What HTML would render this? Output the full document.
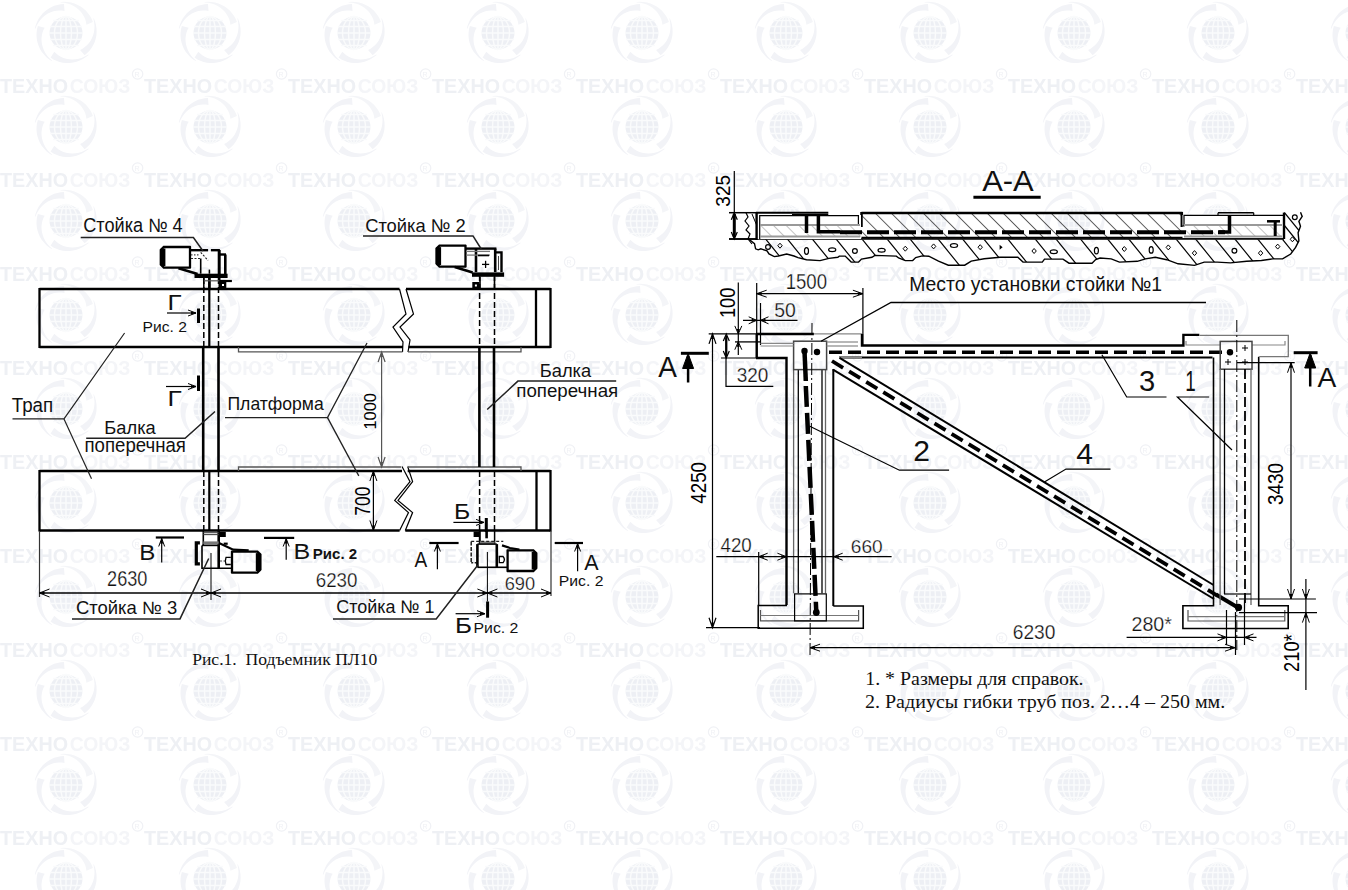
<!DOCTYPE html>
<html><head><meta charset="utf-8"><style>
html,body{margin:0;padding:0;background:#fff;}
body{width:1348px;height:890px;overflow:hidden;position:relative;font-family:"Liberation Sans",sans-serif;}
svg{position:absolute;left:0;top:0;}
</style></head><body>
<svg width="1348" height="890" viewBox="0 0 1348 890">
<defs><pattern id="wm" patternUnits="userSpaceOnUse" x="0" y="0" width="144" height="94">
<g><path d="M60.5,2.0 L64.1,1.8 L67.6,2.0 L71.1,2.5 L74.5,3.5 L77.7,4.9 L80.7,6.5 L83.4,8.5 L86.0,10.8 L88.2,13.4 L90.1,16.1 L91.7,19.1 L92.9,22.1 L86.4,24.8 L86.0,22.1 L85.3,19.5 L84.2,16.9 L82.7,14.4 L81.0,12.0 L78.8,9.8 L76.4,7.8 L73.7,6.1 L70.7,4.6 L67.5,3.5 L64.2,2.8 L60.6,2.5 Z" fill="#f4f5f8"/><path d="M93.8,18.2 L95.1,21.5 L96.0,25.0 L96.5,28.4 L96.6,31.9 L96.4,35.4 L95.7,38.8 L94.7,42.0 L93.3,45.1 L91.5,48.0 L89.5,50.7 L87.2,53.1 L84.6,55.2 L80.1,49.9 L82.5,48.7 L84.8,47.1 L86.9,45.3 L88.8,43.2 L90.6,40.7 L92.0,38.1 L93.2,35.1 L94.0,32.0 L94.4,28.8 L94.5,25.4 L94.1,21.9 L93.4,18.4 Z" fill="#f2f3f7"/><path d="M88.7,54.9 L85.9,57.1 L82.9,59.1 L79.8,60.6 L76.5,61.8 L73.1,62.6 L69.7,63.0 L66.3,63.0 L62.9,62.7 L59.6,61.9 L56.4,60.8 L53.4,59.4 L50.6,57.6 L54.3,51.7 L56.2,53.5 L58.3,55.2 L60.8,56.7 L63.4,57.9 L66.2,58.7 L69.2,59.3 L72.4,59.5 L75.6,59.3 L78.8,58.7 L82.1,57.7 L85.2,56.3 L88.3,54.5 Z" fill="#f2f3f7"/><path d="M52.2,61.3 L49.2,59.4 L46.4,57.2 L44.0,54.6 L41.8,51.9 L40.0,48.9 L38.6,45.8 L37.5,42.5 L36.8,39.2 L36.5,35.8 L36.6,32.5 L37.0,29.2 L37.9,26.0 L44.7,27.7 L43.4,30.0 L42.5,32.6 L41.9,35.3 L41.5,38.2 L41.6,41.2 L42.0,44.2 L42.8,47.2 L43.9,50.2 L45.5,53.2 L47.4,55.9 L49.7,58.5 L52.4,60.9 Z" fill="#f2f3f7"/><path d="M34.8,28.6 L35.7,25.2 L37.0,21.9 L38.6,18.7 L40.6,15.9 L42.8,13.2 L45.4,10.9 L48.1,8.9 L51.1,7.2 L54.2,5.8 L57.4,4.9 L60.7,4.3 L64.0,4.1 L64.5,11.1 L61.9,10.6 L59.1,10.5 L56.3,10.8 L53.5,11.3 L50.7,12.3 L47.9,13.6 L45.3,15.3 L42.8,17.3 L40.5,19.7 L38.5,22.4 L36.7,25.4 L35.3,28.7 Z" fill="#f2f3f7"/>
<circle cx="66" cy="33" r="16.5" fill="#edeff4"/>
<g stroke="#fafbfc" stroke-width="1.5" fill="none">
<line x1="49" y1="33" x2="83" y2="33"/><line x1="50" y1="26.5" x2="82" y2="26.5"/><line x1="50" y1="39.5" x2="82" y2="39.5"/>
<line x1="53" y1="20.5" x2="79" y2="20.5"/><line x1="53" y1="45.5" x2="79" y2="45.5"/>
<line x1="66" y1="16" x2="66" y2="50"/><ellipse cx="66" cy="33" rx="5.5" ry="16.5"/><ellipse cx="66" cy="33" rx="11.5" ry="16.5"/>
</g>
<text x="0" y="92.7" font-family="Liberation Sans" font-weight="bold" font-size="19.5" fill="#eef0f4" textLength="68" lengthAdjust="spacingAndGlyphs">ТЕХНО</text>
<text x="69.7" y="92.7" font-family="Liberation Sans" font-weight="bold" font-size="19.5" fill="#f4f5f8" textLength="60.6" lengthAdjust="spacingAndGlyphs">СОЮЗ</text>
<circle cx="137.6" cy="74" r="5.2" fill="none" stroke="#f0f1f5" stroke-width="1.2"/><text x="134.6" y="76.8" font-family="Liberation Sans" font-size="7" fill="#f0f1f5">R</text>
</g></pattern></defs>
<rect x="0" y="0" width="1348" height="890" fill="url(#wm)"/>
</svg>
<svg width="1348" height="890" viewBox="0 0 1348 890" shape-rendering="auto">
<line x1="39.5" y1="289" x2="399.5" y2="289" stroke="#000" stroke-width="2.3" />
<line x1="406" y1="289" x2="550.5" y2="289" stroke="#000" stroke-width="2.3" />
<line x1="39.5" y1="347" x2="403" y2="347" stroke="#000" stroke-width="2.3" />
<line x1="408.5" y1="347" x2="550.5" y2="347" stroke="#000" stroke-width="2.3" />
<line x1="39.5" y1="288" x2="39.5" y2="348" stroke="#000" stroke-width="2.3" />
<line x1="550.5" y1="288" x2="550.5" y2="348" stroke="#000" stroke-width="2.3" />
<line x1="536" y1="289" x2="536" y2="347" stroke="#000" stroke-width="2.3" />
<path d="M399.5,289 L406,314 L393,327 L403,342 L402.5,352" stroke="#000" stroke-width="1.2" fill="none" stroke-linejoin="miter"/>
<path d="M406,289 L413.5,314 L400,327 L410,340 L408,352" stroke="#000" stroke-width="1.2" fill="none" stroke-linejoin="miter"/>
<line x1="39.5" y1="471" x2="402" y2="471" stroke="#000" stroke-width="2.3" />
<line x1="407.7" y1="471" x2="550.5" y2="471" stroke="#000" stroke-width="2.3" />
<line x1="39.5" y1="530.5" x2="399.6" y2="530.5" stroke="#000" stroke-width="2.3" />
<line x1="405.3" y1="530.5" x2="550.5" y2="530.5" stroke="#000" stroke-width="2.3" />
<line x1="39.5" y1="470" x2="39.5" y2="531.5" stroke="#000" stroke-width="2.3" />
<line x1="550.5" y1="470" x2="550.5" y2="531.5" stroke="#000" stroke-width="2.3" />
<line x1="536.5" y1="471" x2="536.5" y2="530.5" stroke="#000" stroke-width="2.3" />
<path d="M402,466.5 L410,481.6 L394.7,500.4 L408.5,512.6 L399.6,530.6" stroke="#000" stroke-width="1.2" fill="none" stroke-linejoin="miter"/>
<path d="M407.7,466.5 L412.6,481.6 L398,500.4 L412.6,512.6 L405.3,530.6" stroke="#000" stroke-width="1.2" fill="none" stroke-linejoin="miter"/>
<path d="M238.5,347 L238.5,351.8 L402.5,351.8" stroke="#555" stroke-width="1.3" fill="none" stroke-linejoin="miter"/>
<path d="M408,351.8 L521,351.8 L521,347" stroke="#555" stroke-width="1.3" fill="none" stroke-linejoin="miter"/>
<path d="M238.5,471 L238.5,467 L401,467" stroke="#555" stroke-width="1.3" fill="none" stroke-linejoin="miter"/>
<path d="M408,467 L521,467 L521,471" stroke="#555" stroke-width="1.3" fill="none" stroke-linejoin="miter"/>
<line x1="203.2" y1="347" x2="203.2" y2="471" stroke="#000" stroke-width="2.6" />
<line x1="218.5" y1="347" x2="218.5" y2="471" stroke="#000" stroke-width="2.6" />
<line x1="203.8" y1="278" x2="203.8" y2="347" stroke="#000" stroke-width="1.5" stroke-dasharray="6,3" />
<line x1="218.5" y1="278" x2="218.5" y2="347" stroke="#000" stroke-width="1.5" stroke-dasharray="6,3" />
<line x1="209.3" y1="278" x2="209.3" y2="347" stroke="#000" stroke-width="2.2" />
<line x1="203.8" y1="471" x2="203.8" y2="531" stroke="#000" stroke-width="1.5" stroke-dasharray="6,3" />
<line x1="218.5" y1="471" x2="218.5" y2="531" stroke="#000" stroke-width="1.5" stroke-dasharray="6,3" />
<line x1="209.3" y1="471" x2="209.3" y2="531" stroke="#000" stroke-width="2.2" />
<line x1="479.4" y1="347" x2="479.4" y2="467" stroke="#000" stroke-width="2.6" />
<line x1="494" y1="347" x2="494" y2="467" stroke="#000" stroke-width="2.6" />
<line x1="479.6" y1="275" x2="479.6" y2="347" stroke="#000" stroke-width="1.5" stroke-dasharray="6,3" />
<line x1="494.5" y1="275" x2="494.5" y2="347" stroke="#000" stroke-width="1.5" stroke-dasharray="6,3" />
<line x1="479.6" y1="471" x2="479.6" y2="531" stroke="#000" stroke-width="1.5" stroke-dasharray="6,3" />
<line x1="494.5" y1="471" x2="494.5" y2="531" stroke="#000" stroke-width="1.5" stroke-dasharray="6,3" />
<path d="M163.8,247 L189.99,247 L190,247.01 L190,267.59000000000003 L189.99,267.6 L163.8,267.6 L160.8,264.6 L160.8,250 Z" fill="none" stroke="#000" stroke-width="2.3"/>
<line x1="163.10000000000002" y1="248.5" x2="163.10000000000002" y2="266.1" stroke="#000" stroke-width="4.6" />
<line x1="190" y1="250.2" x2="208.1" y2="250.2" stroke="#000" stroke-width="2.4" />
<line x1="210.9" y1="250.2" x2="219.9" y2="250.2" stroke="#000" stroke-width="2.4" />
<line x1="219.2" y1="250" x2="219.2" y2="278" stroke="#000" stroke-width="3" />
<line x1="219" y1="254.5" x2="226" y2="254.5" stroke="#000" stroke-width="2.4" />
<line x1="225.3" y1="254.5" x2="225.3" y2="277" stroke="#000" stroke-width="2.6" />
<rect x="194.5" y="273.7" width="33.099999999999994" height="4.300000000000011" stroke="#000" stroke-width="0" fill="#000"/>
<line x1="178.5" y1="268.3" x2="197.6" y2="273.9" stroke="#000" stroke-width="2.6" />
<line x1="200.7" y1="258.5" x2="200.7" y2="273.7" stroke="#000" stroke-width="1.6" />
<line x1="191" y1="258.5" x2="200.7" y2="258.5" stroke="#222" stroke-width="1.2" stroke-dasharray="2,1.5" />
<line x1="191" y1="254.8" x2="200" y2="254.8" stroke="#444" stroke-width="1.2" stroke-dasharray="1.5,1.5" />
<line x1="200.7" y1="252.4" x2="208.1" y2="260.4" stroke="#222" stroke-width="1.1" stroke-dasharray="2,1.5" />
<line x1="209.4" y1="269.6" x2="209.4" y2="273.7" stroke="#000" stroke-width="1.5" />
<line x1="203.8" y1="278" x2="203.8" y2="289" stroke="#000" stroke-width="1.5" />
<line x1="209.4" y1="278" x2="209.4" y2="289" stroke="#000" stroke-width="2.5" />
<line x1="219.5" y1="278" x2="219.5" y2="289" stroke="#000" stroke-width="2" />
<line x1="203.8" y1="280.8" x2="219.5" y2="280.8" stroke="#555" stroke-width="1.2" />
<line x1="219.5" y1="281" x2="231.9" y2="281" stroke="#000" stroke-width="2.2" />
<rect x="219.5" y="281" width="6.800000000000011" height="8" stroke="#000" stroke-width="0" fill="#000"/>
<rect x="222" y="284" width="2" height="2" stroke="#000" stroke-width="0" fill="#fff"/>
<path d="M439.5,245.6 L465.49,245.6 L465.5,245.60999999999999 L465.5,266.59000000000003 L465.49,266.6 L439.5,266.6 L436.5,263.6 L436.5,248.6 Z" fill="none" stroke="#000" stroke-width="2.3"/>
<line x1="438.8" y1="247.1" x2="438.8" y2="265.1" stroke="#000" stroke-width="4.6" />
<line x1="465.5" y1="248.6" x2="496.4" y2="248.6" stroke="#000" stroke-width="2.4" />
<line x1="476" y1="248.6" x2="476" y2="272.1" stroke="#000" stroke-width="2.6" />
<line x1="495.2" y1="248.6" x2="495.2" y2="272.1" stroke="#000" stroke-width="2.6" />
<path d="M495.2,252.4 L501.5,252.4 L501.5,272.1" stroke="#000" stroke-width="2.4" fill="none" stroke-linejoin="miter"/>
<line x1="498.5" y1="256" x2="498.5" y2="270" stroke="#444" stroke-width="1" />
<rect x="472" y="272.4" width="32.10000000000002" height="4.400000000000034" stroke="#000" stroke-width="0" fill="#000"/>
<line x1="454.7" y1="267" x2="472.6" y2="272.6" stroke="#000" stroke-width="2.6" />
<line x1="466" y1="251.4" x2="490" y2="251.4" stroke="#777" stroke-width="1.3" />
<line x1="466" y1="255.1" x2="490" y2="255.1" stroke="#777" stroke-width="1.3" />
<line x1="478" y1="255.5" x2="489" y2="255.5" stroke="#000" stroke-width="1.6" />
<line x1="482" y1="264.4" x2="489.2" y2="264.4" stroke="#000" stroke-width="1.3" />
<line x1="485.6" y1="260.8" x2="485.6" y2="268" stroke="#000" stroke-width="1.3" />
<line x1="480" y1="276.8" x2="480" y2="289" stroke="#000" stroke-width="1.6" />
<line x1="494.5" y1="276.8" x2="494.5" y2="289" stroke="#000" stroke-width="1.6" />
<rect x="472.3" y="282" width="7.099999999999966" height="7" stroke="#000" stroke-width="0" fill="#000"/>
<rect x="474.9" y="284.5" width="2.0" height="2.0" stroke="#000" stroke-width="0" fill="#fff"/>
<line x1="203.3" y1="531" x2="203.3" y2="545.4" stroke="#000" stroke-width="1.6" />
<line x1="218.7" y1="531" x2="218.7" y2="568.2" stroke="#000" stroke-width="2.6" />
<line x1="203.3" y1="532.7" x2="218.7" y2="532.7" stroke="#444" stroke-width="1.1" />
<line x1="203.3" y1="534.6" x2="218.7" y2="534.6" stroke="#444" stroke-width="1.1" />
<line x1="203.3" y1="542.9" x2="218.7" y2="542.9" stroke="#777" stroke-width="3" />
<rect x="219" y="531.8" width="6.800000000000011" height="5.2000000000000455" stroke="#000" stroke-width="0" fill="#000"/>
<path d="M202,545.4 L218.7,545.4" stroke="#000" stroke-width="1.6" fill="none" stroke-linejoin="miter"/>
<path d="M202,545.4 L202,568.2 L232,568.2" stroke="#000" stroke-width="1.6" fill="none" stroke-linejoin="miter"/>
<path d="M199.9,542.9 L196.3,542.9 L196.3,563.9 L199.9,563.9" stroke="#000" stroke-width="3.2" fill="none" stroke-linejoin="miter"/>
<path d="M219,543 L233.2,549.7 L248.7,550.3" stroke="#000" stroke-width="2.2" fill="none" stroke-linejoin="miter"/>
<rect x="223.7" y="542.6" width="4.0" height="2.199999999999932" stroke="#000" stroke-width="0" fill="#000"/>
<path d="M230.8,557.4 L226,557.4 Q224.6,561 226,564.5 L230.8,564.5" fill="none" stroke="#000" stroke-width="1.3"/>
<line x1="220" y1="561" x2="225" y2="561" stroke="#444" stroke-width="1.1" stroke-dasharray="2,1.5" />
<path d="M232.01,551.6 L257.4,551.6 L260.4,554.6 L260.4,569.6 L257.4,572.6 L232.01,572.6 L232,572.59 L232,551.61 Z" fill="none" stroke="#000" stroke-width="2.3"/>
<line x1="258.09999999999997" y1="553.1" x2="258.09999999999997" y2="571.1" stroke="#000" stroke-width="4.6" />
<rect x="473.6" y="531.5" width="5.599999999999966" height="5.5" stroke="#000" stroke-width="0" fill="#000"/>
<line x1="479.8" y1="531" x2="479.8" y2="544.1" stroke="#000" stroke-width="2" />
<line x1="494.6" y1="531" x2="494.6" y2="544.1" stroke="#000" stroke-width="1.5" />
<line x1="486.6" y1="531" x2="486.6" y2="538.3" stroke="#000" stroke-width="2.6" />
<line x1="479.8" y1="542.9" x2="494.6" y2="542.9" stroke="#777" stroke-width="3" />
<line x1="471.2" y1="541.4" x2="503.3" y2="541.4" stroke="#222" stroke-width="1.2" stroke-dasharray="3,2" />
<line x1="471.2" y1="541.4" x2="471.2" y2="562.7" stroke="#222" stroke-width="1.5" stroke-dasharray="4,1.5" />
<line x1="471.2" y1="562.7" x2="477" y2="562.7" stroke="#222" stroke-width="1.5" stroke-dasharray="2,1.5" />
<line x1="477.4" y1="544.1" x2="477.4" y2="567.3" stroke="#000" stroke-width="2.6" />
<line x1="496.8" y1="544.1" x2="496.8" y2="567.3" stroke="#000" stroke-width="2.6" />
<line x1="477.4" y1="544.1" x2="496.8" y2="544.1" stroke="#000" stroke-width="1.5" />
<line x1="477.4" y1="567.3" x2="507.6" y2="567.3" stroke="#000" stroke-width="1.6" />
<path d="M502,545.4 L510,548 L519.4,549.7" stroke="#000" stroke-width="2.2" fill="none" stroke-linejoin="miter"/>
<path d="M499.3,556.5 L503,556.5 Q505.8,559.6 503,562.7 L499.3,562.7 Z" fill="none" stroke="#000" stroke-width="1.3"/>
<path d="M507.61,550.3 L533.3,550.3 L536.3,553.3 L536.3,568 L533.3,571 L507.61,571 L507.6,570.99 L507.6,550.31 Z" fill="none" stroke="#000" stroke-width="2.3"/>
<line x1="534.0" y1="551.8" x2="534.0" y2="569.5" stroke="#000" stroke-width="4.6" />
<line x1="39.5" y1="531" x2="39.5" y2="597" stroke="#333" stroke-width="1.2" />
<line x1="551" y1="531" x2="551" y2="596" stroke="#333" stroke-width="1.2" />
<line x1="211" y1="553" x2="211" y2="600" stroke="#000" stroke-width="1" />
<line x1="487.4" y1="552" x2="487.4" y2="601.5" stroke="#000" stroke-width="1" />
<line x1="39.5" y1="593" x2="551" y2="593" stroke="#000" stroke-width="1.3" />
<path d="M49.5,589.0 L39.5,593 L49.5,597.0" fill="none" stroke="#000" stroke-width="1"/>
<path d="M39.5,593 L44.5,591.4 L44.5,594.6 Z" fill="#000" stroke="none"/>
<path d="M201.0,597.0 L211,593 L201.0,589.0" fill="none" stroke="#000" stroke-width="1"/>
<path d="M211,593 L206.0,594.6 L206.0,591.4 Z" fill="#000" stroke="none"/>
<path d="M221.0,589.0 L211,593 L221.0,597.0" fill="none" stroke="#000" stroke-width="1"/>
<path d="M211,593 L216.0,591.4 L216.0,594.6 Z" fill="#000" stroke="none"/>
<path d="M477.4,597.0 L487.4,593 L477.4,589.0" fill="none" stroke="#000" stroke-width="1"/>
<path d="M487.4,593 L482.4,594.6 L482.4,591.4 Z" fill="#000" stroke="none"/>
<path d="M497.4,589.0 L487.4,593 L497.4,597.0" fill="none" stroke="#000" stroke-width="1"/>
<path d="M487.4,593 L492.4,591.4 L492.4,594.6 Z" fill="#000" stroke="none"/>
<path d="M541.0,597.0 L551,593 L541.0,589.0" fill="none" stroke="#000" stroke-width="1"/>
<path d="M551,593 L546.0,594.6 L546.0,591.4 Z" fill="#000" stroke="none"/>
<line x1="381.6" y1="352" x2="381.6" y2="467" stroke="#555" stroke-width="1.2" />
<path d="M385.1,362.0 L381.6,352 L378.1,362.0" fill="none" stroke="#555" stroke-width="1.2"/>
<path d="M381.6,352 L383.2,357.0 L380.0,357.0 Z" fill="#555" stroke="none"/>
<path d="M378.1,457.0 L381.6,467 L385.1,457.0" fill="none" stroke="#555" stroke-width="1.2"/>
<path d="M381.6,467 L380.0,462.0 L383.2,462.0 Z" fill="#555" stroke="none"/>
<line x1="373.4" y1="471" x2="373.4" y2="530.5" stroke="#000" stroke-width="1.2" />
<path d="M376.9,481.0 L373.4,471 L369.9,481.0" fill="none" stroke="#000" stroke-width="1"/>
<path d="M373.4,471 L375.0,476.0 L371.8,476.0 Z" fill="#000" stroke="none"/>
<path d="M369.9,520.5 L373.4,530.5 L376.9,520.5" fill="none" stroke="#000" stroke-width="1"/>
<path d="M373.4,530.5 L371.8,525.5 L375.0,525.5 Z" fill="#000" stroke="none"/>
<line x1="167" y1="313" x2="196" y2="313" stroke="#000" stroke-width="1.2" />
<path d="M188.0,316.0 L196,313 L188.0,310.0" fill="none" stroke="#000" stroke-width="1"/>
<path d="M196,313 L191.0,314.6 L191.0,311.4 Z" fill="#000" stroke="none"/>
<line x1="198.5" y1="308.5" x2="198.5" y2="323" stroke="#000" stroke-width="3" />
<line x1="166" y1="386.5" x2="196" y2="386.5" stroke="#000" stroke-width="1.2" />
<path d="M188.0,389.5 L196,386.5 L188.0,383.5" fill="none" stroke="#000" stroke-width="1"/>
<path d="M196,386.5 L191.0,388.1 L191.0,384.9 Z" fill="#000" stroke="none"/>
<line x1="198.5" y1="375.5" x2="198.5" y2="391" stroke="#000" stroke-width="3" />
<line x1="155.8" y1="537.5" x2="184" y2="537.5" stroke="#000" stroke-width="2.2" />
<line x1="161.7" y1="538" x2="161.7" y2="562.4" stroke="#000" stroke-width="1.2" />
<path d="M164.7,546.5 L161.7,538.5 L158.7,546.5" fill="none" stroke="#000" stroke-width="1"/>
<path d="M161.7,538.5 L163.3,543.5 L160.1,543.5 Z" fill="#000" stroke="none"/>
<line x1="264" y1="537.9" x2="294.2" y2="537.9" stroke="#000" stroke-width="2.2" />
<line x1="286.2" y1="538" x2="286.2" y2="559.7" stroke="#000" stroke-width="1.2" />
<path d="M289.2,546.5 L286.2,538.5 L283.2,546.5" fill="none" stroke="#000" stroke-width="1"/>
<path d="M286.2,538.5 L287.8,543.5 L284.6,543.5 Z" fill="#000" stroke="none"/>
<line x1="429.3" y1="543" x2="458.6" y2="543" stroke="#000" stroke-width="2.2" />
<line x1="437.4" y1="543" x2="437.4" y2="569.2" stroke="#000" stroke-width="1.2" />
<path d="M440.4,551.5 L437.4,543.5 L434.4,551.5" fill="none" stroke="#000" stroke-width="1"/>
<path d="M437.4,543.5 L439.0,548.5 L435.8,548.5 Z" fill="#000" stroke="none"/>
<line x1="554.7" y1="543" x2="583" y2="543" stroke="#000" stroke-width="2.2" />
<line x1="577.6" y1="543" x2="577.6" y2="571.2" stroke="#000" stroke-width="1.2" />
<path d="M580.6,551.5 L577.6,543.5 L574.6,551.5" fill="none" stroke="#000" stroke-width="1"/>
<path d="M577.6,543.5 L579.2,548.5 L576.0,548.5 Z" fill="#000" stroke="none"/>
<line x1="453.4" y1="522.4" x2="484" y2="522.4" stroke="#000" stroke-width="1.2" />
<path d="M476.0,525.4 L484,522.4 L476.0,519.4" fill="none" stroke="#000" stroke-width="1"/>
<path d="M484,522.4 L479.0,524.0 L479.0,520.8 Z" fill="#000" stroke="none"/>
<line x1="486.3" y1="518" x2="486.3" y2="532" stroke="#000" stroke-width="3" />
<line x1="455.6" y1="613.7" x2="485" y2="613.7" stroke="#000" stroke-width="1.2" />
<path d="M477.0,616.7 L485,613.7 L477.0,610.7" fill="none" stroke="#000" stroke-width="1"/>
<path d="M485,613.7 L480.0,615.3 L480.0,612.1 Z" fill="#000" stroke="none"/>
<line x1="487.6" y1="601.5" x2="487.6" y2="617.7" stroke="#000" stroke-width="3" />
<text x="83.29" y="232.1" font-family="Liberation Sans" font-size="19.29" fill="#111" font-weight="normal" text-anchor="start" textLength="99.43" lengthAdjust="spacingAndGlyphs" >Стойка № 4</text>
<path d="M80.7,237.6 L193.4,237.6 L203,251" stroke="#222" stroke-width="1.5" fill="none" stroke-linejoin="miter"/>
<text x="365.18" y="231.8" font-family="Liberation Sans" font-size="18.43" fill="#111" font-weight="normal" text-anchor="start" textLength="100.61" lengthAdjust="spacingAndGlyphs" >Стойка № 2</text>
<path d="M363,235.9 L473,235.9 L481.2,249" stroke="#222" stroke-width="1.5" fill="none" stroke-linejoin="miter"/>
<text x="75.98" y="614.1" font-family="Liberation Sans" font-size="17.71" fill="#111" font-weight="normal" text-anchor="start" textLength="101.23" lengthAdjust="spacingAndGlyphs" >Стойка № 3</text>
<path d="M72,618.9 L180,618.9 L208.7,558.5" stroke="#222" stroke-width="1.5" fill="none" stroke-linejoin="miter"/>
<text x="336.2" y="613.3" font-family="Liberation Sans" font-size="18.29" fill="#111" font-weight="normal" text-anchor="start" textLength="98.37" lengthAdjust="spacingAndGlyphs" >Стойка № 1</text>
<path d="M333,619 L436.2,619 L477.9,565" stroke="#222" stroke-width="1.5" fill="none" stroke-linejoin="miter"/>
<text x="11.83" y="411.7" font-family="Liberation Sans" font-size="19.71" fill="#111" font-weight="normal" text-anchor="start" textLength="41.35" lengthAdjust="spacingAndGlyphs" >Трап</text>
<path d="M124.6,333 L64,418.9 L12.5,418.9" stroke="#222" stroke-width="1.2" fill="none" stroke-linejoin="miter"/>
<path d="M64,418.9 L91.5,478.7" stroke="#222" stroke-width="1.2" fill="none" stroke-linejoin="miter"/>
<text x="104.34" y="433.9" font-family="Liberation Sans" font-size="18.41" fill="#111" font-weight="normal" text-anchor="start" textLength="51.39" lengthAdjust="spacingAndGlyphs" >Балка</text>
<text x="84.5" y="452" font-family="Liberation Sans" font-size="19.43" fill="#111" font-weight="normal" text-anchor="start" textLength="101.41" lengthAdjust="spacingAndGlyphs" >поперечная</text>
<path d="M86.2,438.3 L185.1,438.3 L215,411.5" stroke="#222" stroke-width="1.5" fill="none" stroke-linejoin="miter"/>
<text x="539.73" y="376.5" font-family="Liberation Sans" font-size="18.7" fill="#111" font-weight="normal" text-anchor="start" textLength="51.49" lengthAdjust="spacingAndGlyphs" >Балка</text>
<text x="516.29" y="396.5" font-family="Liberation Sans" font-size="18.49" fill="#111" font-weight="normal" text-anchor="start" textLength="101.93" lengthAdjust="spacingAndGlyphs" >поперечная</text>
<path d="M616.2,381.1 L517.9,381.1 L487.2,409.5" stroke="#222" stroke-width="1.5" fill="none" stroke-linejoin="miter"/>
<text x="227.49" y="410" font-family="Liberation Sans" font-size="17.97" fill="#111" font-weight="normal" text-anchor="start" textLength="96.26" lengthAdjust="spacingAndGlyphs" >Платформа</text>
<path d="M225,417.6 L327.5,417.6 L367,343" stroke="#222" stroke-width="1.3" fill="none" stroke-linejoin="miter"/>
<path d="M327.5,417.6 L358.8,475.9" stroke="#222" stroke-width="1.3" fill="none" stroke-linejoin="miter"/>
<text x="142.55" y="331.5" font-family="Liberation Sans" font-size="14.93" fill="#111" font-weight="normal" text-anchor="start" textLength="44.37" lengthAdjust="spacingAndGlyphs" >Рис. 2</text>
<text x="312.82" y="558.8" font-family="Liberation Sans" font-size="14.78" fill="#111" font-weight="bold" text-anchor="start" textLength="44.27" lengthAdjust="spacingAndGlyphs" >Рис. 2</text>
<text x="558.84" y="585.6" font-family="Liberation Sans" font-size="14.64" fill="#111" font-weight="normal" text-anchor="start" textLength="44.58" lengthAdjust="spacingAndGlyphs" >Рис. 2</text>
<text x="473.53" y="633.1" font-family="Liberation Sans" font-size="14.93" fill="#111" font-weight="normal" text-anchor="start" textLength="44.9" lengthAdjust="spacingAndGlyphs" >Рис. 2</text>
<text x="167.43" y="310" font-family="Liberation Sans" font-size="22.17" fill="#111" font-weight="normal" text-anchor="start" textLength="13.99" lengthAdjust="spacingAndGlyphs" >Г</text>
<text x="167.6" y="405.7" font-family="Liberation Sans" font-size="22.46" fill="#111" font-weight="normal" text-anchor="start" textLength="14.24" lengthAdjust="spacingAndGlyphs" >Г</text>
<text x="139.17" y="559.8" font-family="Liberation Sans" font-size="22.46" fill="#111" font-weight="normal" text-anchor="start" textLength="16.08" lengthAdjust="spacingAndGlyphs" >В</text>
<text x="293.5" y="558.7" font-family="Liberation Sans" font-size="22.32" fill="#111" font-weight="normal" text-anchor="start" textLength="16.71" lengthAdjust="spacingAndGlyphs" >В</text>
<text x="414.4" y="567.4" font-family="Liberation Sans" font-size="21.45" fill="#111" font-weight="normal" text-anchor="start" textLength="12.73" lengthAdjust="spacingAndGlyphs" >А</text>
<text x="584.29" y="570.4" font-family="Liberation Sans" font-size="22.46" fill="#111" font-weight="normal" text-anchor="start" textLength="14.35" lengthAdjust="spacingAndGlyphs" >А</text>
<text x="453.92" y="518.8" font-family="Liberation Sans" font-size="22.75" fill="#111" font-weight="normal" text-anchor="start" textLength="16.25" lengthAdjust="spacingAndGlyphs" >Б</text>
<text x="454.93" y="633.1" font-family="Liberation Sans" font-size="22.9" fill="#111" font-weight="normal" text-anchor="start" textLength="17.0" lengthAdjust="spacingAndGlyphs" >Б</text>
<text x="107.09" y="585.7" font-family="Liberation Sans" font-size="21.57" fill="#111" font-weight="normal" text-anchor="start" textLength="40.33" lengthAdjust="spacingAndGlyphs" stroke="#fff" stroke-width="0.25">2630</text>
<text x="315.76" y="586.8" font-family="Liberation Sans" font-size="19.43" fill="#111" font-weight="normal" text-anchor="start" textLength="41.68" lengthAdjust="spacingAndGlyphs" stroke="#fff" stroke-width="0.25">6230</text>
<text x="504.69" y="589.5" font-family="Liberation Sans" font-size="19.0" fill="#111" font-weight="normal" text-anchor="start" textLength="30.51" lengthAdjust="spacingAndGlyphs" stroke="#fff" stroke-width="0.25">690</text>
<text x="376" y="429.53" font-family="Liberation Sans" font-size="17.1" fill="#000" font-weight="normal" text-anchor="start" textLength="36.48" lengthAdjust="spacingAndGlyphs" transform="rotate(-90,376,429.53)" >1000</text>
<text x="370.4" y="515.68" font-family="Liberation Sans" font-size="21.59" fill="#000" font-weight="normal" text-anchor="start" textLength="29.24" lengthAdjust="spacingAndGlyphs" transform="rotate(-90,370.4,515.68)" >700</text>
<text x="192.17" y="665.3" font-family="Liberation Serif" font-size="17.4" fill="#111" font-weight="normal" text-anchor="start" textLength="185.19" lengthAdjust="spacingAndGlyphs" >Рис.1.&#160; Подъемник ПЛ10</text>
<text x="982.15" y="190.9" font-family="Liberation Sans" font-size="30.14" fill="#111" font-weight="normal" text-anchor="start" textLength="51.62" lengthAdjust="spacingAndGlyphs" >А-А</text>
<line x1="973.4" y1="197.2" x2="1040.7" y2="197.2" stroke="#000" stroke-width="3" />
<line x1="734.3" y1="171" x2="734.3" y2="239" stroke="#000" stroke-width="1.2" />
<path d="M737.3,219.7 L734.3,212.7 L731.3,219.7" fill="none" stroke="#000" stroke-width="1.2"/>
<path d="M731.3,232.0 L734.3,239 L737.3,232.0" fill="none" stroke="#000" stroke-width="1.2"/>
<line x1="734.3" y1="214" x2="734.3" y2="237" stroke="#000" stroke-width="3" />
<text x="729.7" y="206.66" font-family="Liberation Sans" font-size="21.14" fill="#000" font-weight="normal" text-anchor="start" textLength="31.69" lengthAdjust="spacingAndGlyphs" transform="rotate(-90,729.7,206.66)" >325</text>
<line x1="729" y1="212.7" x2="756" y2="212.7" stroke="#000" stroke-width="1.5" />
<line x1="729" y1="239" x2="757" y2="239" stroke="#000" stroke-width="1.5" />
<defs><pattern id="hatchs" patternUnits="userSpaceOnUse" width="11.3" height="11.3" patternTransform="translate(954.4,213) rotate(-45)"><line x1="0" y1="0" x2="0" y2="11.3" stroke="#000" stroke-width="1.2"/></pattern><pattern id="hatchg" patternUnits="userSpaceOnUse" width="9" height="9" patternTransform="rotate(-45)"><line x1="0" y1="0" x2="0" y2="9" stroke="#888" stroke-width="1"/></pattern></defs>
<clipPath id="gclip"><path d="M749.3,239.5 L754.5,243.6 L755.6,248.8 L758.2,249.8 L760.8,248.8 L767,250.9 L769,254 L774.3,256.6 L778.4,256 L786.7,254 L794,256 L798,257.6 L806.5,259.7 L820,260.6 L828.9,258.4 L837.8,257.3 L839.3,256.1 L845.2,256.1 L851.2,262.1 L858.6,262.1 L861.5,259.1 L871.9,257.3 L874.9,255.4 L896.4,256.1 L898.6,258 L905.3,260.6 L912.7,260.6 L915.7,257.6 L922.2,255.9 L928.8,256.2 L938.5,261.1 L948.3,265.2 L964.7,265.2 L971.2,261.1 L984.2,258.7 L1000,257.3 L1017.8,257.3 L1023,262.1 L1042.3,262.1 L1044.5,259.1 L1063,259.1 L1069,263.2 L1092,263.2 L1095.7,259.5 L1100,258 L1111.2,258.9 L1119.4,262.1 L1137.3,261.3 L1145.5,258.9 L1155.3,257.2 L1166.7,259.7 L1178.1,263.8 L1194.5,265.4 L1204.2,262.1 L1217.3,262.1 L1230.4,262.9 L1246.7,261.3 L1261.4,260.5 L1272.8,258.9 L1282.6,258.9 L1290.7,254 L1295.6,247.4 L1298.9,240.9 L1298.1,232.7 L1300.5,226.2 L1298.9,221.3 L1302.2,216.4 L1300.5,212.3 L1284.2,212.3 L1284.2,239.5 Z"/></clipPath>
<g clip-path="url(#gclip)"><line x1="756" y1="227.15" x2="793" y2="272.8" stroke="#000" stroke-width="1.2"/><line x1="777.8" y1="227.15" x2="814.8" y2="272.8" stroke="#000" stroke-width="1.2"/><line x1="802.7" y1="227.15" x2="839.7" y2="272.8" stroke="#000" stroke-width="1.2"/><line x1="826.5" y1="227.15" x2="863.5" y2="272.8" stroke="#000" stroke-width="1.2"/><line x1="852.4" y1="227.15" x2="889.4" y2="272.8" stroke="#000" stroke-width="1.2"/><line x1="877.5" y1="227.15" x2="914.5" y2="272.8" stroke="#000" stroke-width="1.2"/><line x1="900.5" y1="227.15" x2="937.5" y2="272.8" stroke="#000" stroke-width="1.2"/><line x1="928.5" y1="227.15" x2="965.5" y2="272.8" stroke="#000" stroke-width="1.2"/><line x1="953" y1="227.15" x2="990" y2="272.8" stroke="#000" stroke-width="1.2"/><line x1="974.2" y1="227.15" x2="1011.2" y2="272.8" stroke="#000" stroke-width="1.2"/><line x1="998.2" y1="227.15" x2="1035.2" y2="272.8" stroke="#000" stroke-width="1.2"/><line x1="1025.6" y1="227.15" x2="1062.6" y2="272.8" stroke="#000" stroke-width="1.2"/><line x1="1046.4" y1="227.15" x2="1083.4" y2="272.8" stroke="#000" stroke-width="1.2"/><line x1="1070.9" y1="227.15" x2="1107.9" y2="272.8" stroke="#000" stroke-width="1.2"/><line x1="1098" y1="227.15" x2="1135" y2="272.8" stroke="#000" stroke-width="1.2"/><line x1="1119.2" y1="227.15" x2="1156.2" y2="272.8" stroke="#000" stroke-width="1.2"/><line x1="1142" y1="227.15" x2="1179" y2="272.8" stroke="#000" stroke-width="1.2"/><line x1="1166.5" y1="227.15" x2="1203.5" y2="272.8" stroke="#000" stroke-width="1.2"/><line x1="1186" y1="227.15" x2="1223" y2="272.8" stroke="#000" stroke-width="1.2"/><line x1="1205.7" y1="227.15" x2="1242.7" y2="272.8" stroke="#000" stroke-width="1.2"/><line x1="1225.3" y1="227.15" x2="1262.3" y2="272.8" stroke="#000" stroke-width="1.2"/><line x1="1248.1" y1="227.15" x2="1285.1" y2="272.8" stroke="#000" stroke-width="1.2"/><line x1="1272.6" y1="227.15" x2="1309.6" y2="272.8" stroke="#000" stroke-width="1.2"/><line x1="1284" y1="225" x2="1304" y2="249.7" stroke="#000" stroke-width="1.2"/><line x1="1284" y1="212" x2="1304" y2="236.7" stroke="#000" stroke-width="1.2"/></g>
<path d="M749.3,239.5 L754.5,243.6 L755.6,248.8 L758.2,249.8 L760.8,248.8 L767,250.9 L769,254 L774.3,256.6 L778.4,256 L786.7,254 L794,256 L798,257.6 L806.5,259.7 L820,260.6 L828.9,258.4 L837.8,257.3 L839.3,256.1 L845.2,256.1 L851.2,262.1 L858.6,262.1 L861.5,259.1 L871.9,257.3 L874.9,255.4 L896.4,256.1 L898.6,258 L905.3,260.6 L912.7,260.6 L915.7,257.6 L922.2,255.9 L928.8,256.2 L938.5,261.1 L948.3,265.2 L964.7,265.2 L971.2,261.1 L984.2,258.7 L1000,257.3 L1017.8,257.3 L1023,262.1 L1042.3,262.1 L1044.5,259.1 L1063,259.1 L1069,263.2 L1092,263.2 L1095.7,259.5 L1100,258 L1111.2,258.9 L1119.4,262.1 L1137.3,261.3 L1145.5,258.9 L1155.3,257.2 L1166.7,259.7 L1178.1,263.8 L1194.5,265.4 L1204.2,262.1 L1217.3,262.1 L1230.4,262.9 L1246.7,261.3 L1261.4,260.5 L1272.8,258.9 L1282.6,258.9 L1290.7,254 L1295.6,247.4 L1298.9,240.9 L1298.1,232.7 L1300.5,226.2 L1298.9,221.3 L1302.2,216.4 L1300.5,212.3" fill="none" stroke="#000" stroke-width="1.4"/>
<path d="M746,212.7 L748,217 L745,221 L749,226 L746,230 L750,234 L748,239 L752,244" stroke="#000" stroke-width="1.2" fill="none" stroke-linejoin="miter"/>
<line x1="752" y1="214" x2="757" y2="226" stroke="#000" stroke-width="1" />
<path d="M861.5,213 L1181.8,213 L1181.8,239 L861.5,239 Z" fill="url(#hatchs)" stroke="none"/>
<line x1="861.5" y1="213" x2="1182.5" y2="213" stroke="#000" stroke-width="2.5" />
<line x1="861.5" y1="212" x2="861.5" y2="227" stroke="#000" stroke-width="2.5" />
<line x1="1181.8" y1="212" x2="1181.8" y2="227" stroke="#000" stroke-width="2.5" />
<line x1="729" y1="239" x2="1284" y2="239" stroke="#000" stroke-width="1.6" />
<line x1="861.5" y1="237.8" x2="1284" y2="237.8" stroke="#000" stroke-width="2" />
<rect x="757" y="215" width="104" height="24" fill="#fff"/>
<rect x="760" y="225" width="101" height="12" fill="url(#hatchg)"/>
<line x1="756.6" y1="212.7" x2="756.6" y2="240" stroke="#000" stroke-width="2.4" />
<line x1="756" y1="212.7" x2="828.3" y2="212.7" stroke="#000" stroke-width="2" />
<line x1="792" y1="214.5" x2="828.3" y2="214.5" stroke="#000" stroke-width="1.2" />
<path d="M759.7,239 L759.7,215.6 L858.4,215.6 L858.4,226" stroke="#000" stroke-width="1.2" fill="none" stroke-linejoin="miter"/>
<line x1="760" y1="225" x2="860" y2="225" stroke="#999" stroke-width="2" />
<line x1="760" y1="236.5" x2="860" y2="236.5" stroke="#999" stroke-width="2" />
<line x1="806.5" y1="215" x2="806.5" y2="233" stroke="#000" stroke-width="3.5" />
<path d="M818.4,215 L818.4,231.7 L840,231.7" stroke="#000" stroke-width="3.5" fill="none" stroke-linejoin="miter"/>
<rect x="1182.5" y="215" width="101" height="23" fill="#fff"/>
<rect x="1186" y="225" width="96" height="12" fill="url(#hatchg)"/>
<path d="M1181.8,226 L1184,226 L1184,215.4 L1284,215.4" stroke="#000" stroke-width="1.2" fill="none" stroke-linejoin="miter"/>
<line x1="1218" y1="212.8" x2="1253.7" y2="212.8" stroke="#000" stroke-width="1.5" />
<line x1="1218" y1="212.8" x2="1218" y2="215.4" stroke="#000" stroke-width="1.2" />
<line x1="1253.7" y1="212.8" x2="1253.7" y2="215.4" stroke="#000" stroke-width="1.2" />
<line x1="1284" y1="212.6" x2="1284" y2="239" stroke="#000" stroke-width="2.4" />
<line x1="1184" y1="225" x2="1282" y2="225" stroke="#999" stroke-width="2" />
<line x1="1184" y1="236.5" x2="1282" y2="236.5" stroke="#999" stroke-width="2" />
<path d="M1229.5,215.6 L1229.5,232 L1219,232" stroke="#000" stroke-width="3.5" fill="none" stroke-linejoin="miter"/>
<line x1="1275.2" y1="221.3" x2="1275.2" y2="236" stroke="#000" stroke-width="3" />
<line x1="1267" y1="221.3" x2="1280" y2="221.3" stroke="#000" stroke-width="2.5" />
<line x1="840" y1="232.2" x2="1225" y2="232.2" stroke="#000" stroke-width="4" stroke-dasharray="22,5" />
<path d="M777.8,245.7 L780,243.2 L782.2,245.7 L780,248.2 Z" fill="none" stroke="#000" stroke-width="1"/>
<ellipse cx="806.5" cy="251" rx="2" ry="3.3" fill="none" stroke="#000" stroke-width="1.2"/>
<ellipse cx="832.2" cy="249.8" rx="3.6" ry="1.9" fill="none" stroke="#000" stroke-width="1.2"/>
<circle cx="854.9" cy="251" r="2.4" fill="none" stroke="#000" stroke-width="1.2"/>
<ellipse cx="881.6" cy="250.2" rx="3.6" ry="1.9" fill="none" stroke="#000" stroke-width="1.2"/>
<path d="M903.0999999999999,248.7 L905.3,246.2 L907.5,248.7 L905.3,251.2 Z" fill="none" stroke="#000" stroke-width="1"/>
<path d="M931.4,246.4 L933.6,243.9 L935.8000000000001,246.4 L933.6,248.9 Z" fill="none" stroke="#000" stroke-width="1"/>
<ellipse cx="954" cy="245.6" rx="3.6" ry="1.9" fill="none" stroke="#000" stroke-width="1.2"/>
<path d="M978.0,247.2 L980.2,244.7 L982.4000000000001,247.2 L980.2,249.7 Z" fill="none" stroke="#000" stroke-width="1"/>
<path d="M999.6,244.7 L1002.6,247.2 L999.6,249.7 Z" fill="#000"/>
<path d="M1031.8999999999999,251 L1034.1,248.5 L1036.3,251 L1034.1,253.5 Z" fill="none" stroke="#000" stroke-width="1"/>
<ellipse cx="1053.8" cy="251.7" rx="3.6" ry="1.9" fill="none" stroke="#000" stroke-width="1.2"/>
<ellipse cx="1096.4" cy="250.6" rx="2" ry="3.3" fill="none" stroke="#000" stroke-width="1.2"/>
<path d="M1122.1,249 L1124.3,246.5 L1126.5,249 L1124.3,251.5 Z" fill="none" stroke="#000" stroke-width="1"/>
<ellipse cx="1151.2" cy="249.9" rx="2" ry="3.3" fill="none" stroke="#000" stroke-width="1.2"/>
<path d="M1166.1,247.4 L1168.3,244.9 L1170.5,247.4 L1168.3,249.9 Z" fill="none" stroke="#000" stroke-width="1"/>
<path d="M1192.3,253.1 L1194.5,250.6 L1196.7,253.1 L1194.5,255.6 Z" fill="none" stroke="#000" stroke-width="1"/>
<circle cx="1234.4" cy="250.7" r="2.4" fill="none" stroke="#000" stroke-width="1.2"/>
<path d="M1258.3999999999999,253.1 L1260.6,250.6 L1262.8,253.1 L1260.6,255.6 Z" fill="none" stroke="#000" stroke-width="1"/>
<path d="M1275.5,246.6 L1277.7,244.1 L1279.9,246.6 L1277.7,249.1 Z" fill="none" stroke="#000" stroke-width="1"/>
<path d="M1290.2,239.3 L1292.4,236.8 L1294.6000000000001,239.3 L1292.4,241.8 Z" fill="none" stroke="#000" stroke-width="1"/>
<circle cx="1294.8" cy="217.2" r="2.4" fill="none" stroke="#000" stroke-width="1.2"/>
<circle cx="768" cy="247" r="2.4" fill="none" stroke="#000" stroke-width="1.2"/>
<text x="785.71" y="288.7" font-family="Liberation Sans" font-size="21.3" fill="#111" font-weight="normal" text-anchor="start" textLength="41.33" lengthAdjust="spacingAndGlyphs" stroke="#fff" stroke-width="0.25">1500</text>
<line x1="756.7" y1="293.7" x2="862.9" y2="293.7" stroke="#000" stroke-width="1.2" />
<path d="M766.7,290.2 L756.7,293.7 L766.7,297.2" fill="none" stroke="#000" stroke-width="1"/>
<path d="M756.7,293.7 L761.7,292.1 L761.7,295.3 Z" fill="#000" stroke="none"/>
<path d="M852.9,297.2 L862.9,293.7 L852.9,290.2" fill="none" stroke="#000" stroke-width="1"/>
<path d="M862.9,293.7 L857.9,295.3 L857.9,292.1 Z" fill="#000" stroke="none"/>
<line x1="756.7" y1="283" x2="756.7" y2="358" stroke="#000" stroke-width="1.2" />
<line x1="862.9" y1="288" x2="862.9" y2="345.5" stroke="#000" stroke-width="1.2" />
<text x="734.6" y="318.07" font-family="Liberation Sans" font-size="21.3" fill="#000" font-weight="normal" text-anchor="start" textLength="30.57" lengthAdjust="spacingAndGlyphs" transform="rotate(-90,734.6,318.07)" >100</text>
<line x1="738.3" y1="282.5" x2="738.3" y2="355" stroke="#000" stroke-width="1.2" />
<path d="M734.8,325.9 L738.3,333.9 L741.8,325.9" fill="none" stroke="#000" stroke-width="1"/>
<path d="M738.3,333.9 L736.7,328.9 L739.9,328.9 Z" fill="#000" stroke="none"/>
<path d="M741.8,349.7 L738.3,341.7 L734.8,349.7" fill="none" stroke="#000" stroke-width="1"/>
<path d="M738.3,341.7 L739.9,346.7 L736.7,346.7 Z" fill="#000" stroke="none"/>
<text x="774.32" y="316.7" font-family="Liberation Sans" font-size="20.58" fill="#111" font-weight="normal" text-anchor="start" textLength="21.6" lengthAdjust="spacingAndGlyphs" stroke="#fff" stroke-width="0.25">50</text>
<line x1="743" y1="320.3" x2="797.5" y2="320.3" stroke="#000" stroke-width="1.2" />
<path d="M748.7,323.8 L756.7,320.3 L748.7,316.8" fill="none" stroke="#000" stroke-width="1"/>
<path d="M756.7,320.3 L751.7,321.9 L751.7,318.7 Z" fill="#000" stroke="none"/>
<path d="M768.5,316.8 L760.5,320.3 L768.5,323.8" fill="none" stroke="#000" stroke-width="1"/>
<path d="M760.5,320.3 L765.5,318.7 L765.5,321.9 Z" fill="#000" stroke="none"/>
<line x1="760.5" y1="303" x2="760.5" y2="345" stroke="#000" stroke-width="1.2" />
<line x1="708.7" y1="333.9" x2="756.7" y2="333.9" stroke="#000" stroke-width="1.2" />
<line x1="756" y1="333.9" x2="813.9" y2="333.9" stroke="#000" stroke-width="2.5" />
<line x1="813.9" y1="333.9" x2="862" y2="333.9" stroke="#888" stroke-width="1.3" />
<line x1="721" y1="358" x2="756" y2="358" stroke="#000" stroke-width="1.2" />
<path d="M756,358 L786.5,358 L786.5,605" stroke="#000" stroke-width="2.4" fill="none" stroke-linejoin="miter"/>
<line x1="756.7" y1="333.9" x2="756.7" y2="358" stroke="#000" stroke-width="2.4" />
<text x="736.64" y="381.5" font-family="Liberation Sans" font-size="21.14" fill="#111" font-weight="normal" text-anchor="start" textLength="31.69" lengthAdjust="spacingAndGlyphs" stroke="#fff" stroke-width="0.25">320</text>
<path d="M726,338 L726,386.3 L773.3,386.3" stroke="#000" stroke-width="1.2" fill="none" stroke-linejoin="miter"/>
<path d="M729.3,340.9 L726.3,333.9 L723.3,340.9" fill="none" stroke="#000" stroke-width="1.2"/>
<path d="M723.3,351.0 L726.3,358 L729.3,351.0" fill="none" stroke="#000" stroke-width="1.2"/>
<line x1="726.3" y1="336" x2="726.3" y2="356" stroke="#000" stroke-width="2.2" />
<line x1="712.5" y1="333.9" x2="712.5" y2="627.7" stroke="#000" stroke-width="1.2" />
<path d="M716.0,343.9 L712.5,333.9 L709.0,343.9" fill="none" stroke="#000" stroke-width="1.2"/>
<path d="M712.5,333.9 L714.1,338.9 L710.9,338.9 Z" fill="#000" stroke="none"/>
<path d="M709.0,617.7 L712.5,627.7 L716.0,617.7" fill="none" stroke="#000" stroke-width="1.2"/>
<path d="M712.5,627.7 L710.9,622.7 L714.1,622.7 Z" fill="#000" stroke="none"/>
<line x1="706" y1="627.7" x2="760" y2="627.7" stroke="#000" stroke-width="1.2" />
<text x="705.8" y="503.67" font-family="Liberation Sans" font-size="21.16" fill="#000" font-weight="normal" text-anchor="start" textLength="41.71" lengthAdjust="spacingAndGlyphs" transform="rotate(-90,705.8,503.67)" >4250</text>
<text x="658.26" y="376.6" font-family="Liberation Sans" font-size="29.28" fill="#111" font-weight="normal" text-anchor="start" textLength="18.7" lengthAdjust="spacingAndGlyphs" >А</text>
<line x1="680.9" y1="353.3" x2="708.8" y2="353.3" stroke="#000" stroke-width="3" />
<line x1="688.1" y1="356" x2="688.1" y2="382.5" stroke="#000" stroke-width="2.5" />
<path d="M688.1,353.5 L693.6,368.5 L682.6,368.5 Z" fill="#000" stroke="#000" stroke-width="1"/>
<text x="1317.46" y="386.5" font-family="Liberation Sans" font-size="27.25" fill="#111" font-weight="normal" text-anchor="start" textLength="18.8" lengthAdjust="spacingAndGlyphs" >А</text>
<line x1="1293.7" y1="352.7" x2="1317.6" y2="352.7" stroke="#000" stroke-width="3" />
<line x1="1310.2" y1="355" x2="1310.2" y2="386.5" stroke="#000" stroke-width="2.5" />
<path d="M1310.2,353 L1315.7,368.0 L1304.7,368.0 Z" fill="#000" stroke="#000" stroke-width="1"/>
<line x1="833.3" y1="369" x2="833.3" y2="606" stroke="#000" stroke-width="2" />
<line x1="793.6" y1="369.6" x2="793.6" y2="593.3" stroke="#666" stroke-width="1.3" />
<line x1="798.3" y1="369.6" x2="798.3" y2="593.3" stroke="#000" stroke-width="1.3" />
<line x1="822" y1="369.6" x2="822" y2="593.3" stroke="#000" stroke-width="1.3" />
<line x1="825.5" y1="369.6" x2="825.5" y2="593.3" stroke="#666" stroke-width="1.3" />
<path d="M787,605.4 L758.2,605.4 L758.2,628.3 L863.3,628.3 L863.3,606 L833.3,606" stroke="#000" stroke-width="1.5" fill="none" stroke-linejoin="miter"/>
<path d="M760.5,610 L760.5,620.9 L858.6,620.9 L858.6,610" stroke="#555" stroke-width="1.2" fill="none" stroke-linejoin="miter"/>
<line x1="760.5" y1="615.5" x2="858.6" y2="615.5" stroke="#777" stroke-width="1.2" />
<rect x="794.6" y="593.9" width="31.699999999999932" height="27.0" stroke="#000" stroke-width="1.2" fill="none"/>
<rect x="793.6" y="341.2" width="33.0" height="28.400000000000034" stroke="#444" stroke-width="1.5" fill="none"/>
<line x1="760.5" y1="343.3" x2="793.6" y2="343.3" stroke="#888" stroke-width="1.2" />
<line x1="760.5" y1="346" x2="793.6" y2="346" stroke="#888" stroke-width="1.2" />
<line x1="735" y1="341.9" x2="760" y2="341.9" stroke="#000" stroke-width="1.3" />
<line x1="826.6" y1="342" x2="858" y2="342" stroke="#888" stroke-width="1.2" />
<line x1="826.6" y1="346" x2="858" y2="346" stroke="#888" stroke-width="1.2" />
<line x1="812" y1="323" x2="810" y2="656" stroke="#000" stroke-width="1" stroke-dasharray="12,3,2,3" />
<line x1="804.5" y1="351" x2="805.8" y2="381" stroke="#000" stroke-width="4.5" />
<line x1="805.8" y1="386" x2="816.3" y2="612" stroke="#000" stroke-width="4.5" stroke-dasharray="21,6" />
<circle cx="804.5" cy="351" r="3.2" fill="#000"/>
<circle cx="817" cy="352" r="3.2" fill="#000"/>
<circle cx="816.3" cy="612.5" r="3.4" fill="#000"/>
<path d="M862,333.9 L862,345.5 L1183.4,345.5 L1183.4,334.9 L1199.3,334.9" stroke="#000" stroke-width="2.4" fill="none" stroke-linejoin="miter"/>
<line x1="839" y1="357.5" x2="1212.5" y2="357.5" stroke="#000" stroke-width="2" />
<line x1="839" y1="357.5" x2="862" y2="357.5" stroke="#888" stroke-width="1.2" />
<path d="M1213.5,357.5 L1213.5,605.7 L1182.9,605.7 L1182.9,628.5 L1288.2,628.5 L1288.2,605.7 L1258.7,605.7 L1258.7,356.7" stroke="#000" stroke-width="1.6" fill="none" stroke-linejoin="miter"/>
<line x1="829" y1="352.2" x2="1228" y2="352.2" stroke="#000" stroke-width="3.6" stroke-dasharray="13,6" />
<circle cx="1230" cy="352.2" r="3.2" fill="#000"/>
<line x1="839.6" y1="357.8" x2="1213.5" y2="585" stroke="#000" stroke-width="2" />
<line x1="833" y1="369.6" x2="1214" y2="599" stroke="#000" stroke-width="2" />
<line x1="832" y1="361" x2="1218" y2="596" stroke="#000" stroke-width="3.8" stroke-dasharray="13,7" />
<line x1="1216" y1="594.5" x2="1237" y2="607" stroke="#000" stroke-width="4" />
<circle cx="1238.5" cy="607.4" r="3.6" fill="#000"/>
<path d="M1199.3,335.4 L1288.3,335.4 L1288.3,356.7 L1259.2,356.7" stroke="#777" stroke-width="1.3" fill="none" stroke-linejoin="miter"/>
<path d="M1186,341 L1186,345 L1220.2,345" stroke="#888" stroke-width="1.2" fill="none" stroke-linejoin="miter"/>
<path d="M1252,345 L1285,345 L1285,341" stroke="#888" stroke-width="1.2" fill="none" stroke-linejoin="miter"/>
<rect x="1220.2" y="341.4" width="31.799999999999955" height="27.80000000000001" stroke="#444" stroke-width="1.5" fill="none"/>
<line x1="1220.1" y1="369" x2="1220.1" y2="605" stroke="#666" stroke-width="1.3" />
<line x1="1224.5" y1="369" x2="1224.5" y2="594" stroke="#000" stroke-width="1.3" />
<line x1="1251" y1="369" x2="1251" y2="605" stroke="#666" stroke-width="1.3" />
<line x1="1236.8" y1="320" x2="1236.8" y2="650" stroke="#000" stroke-width="1" stroke-dasharray="12,3,2,3" />
<line x1="1245" y1="369" x2="1245" y2="606" stroke="#000" stroke-width="1.8" stroke-dasharray="10,4" />
<path d="M1188,610 L1188,621 L1284.8,621 L1284.8,610" stroke="#555" stroke-width="1.2" fill="none" stroke-linejoin="miter"/>
<line x1="1188" y1="616.7" x2="1284.8" y2="616.7" stroke="#777" stroke-width="1.2" />
<line x1="1224" y1="594" x2="1251" y2="594" stroke="#000" stroke-width="1.2" />
<line x1="1242" y1="348" x2="1248" y2="348" stroke="#000" stroke-width="1" />
<line x1="1245" y1="345" x2="1245" y2="351" stroke="#000" stroke-width="1" />
<line x1="1225" y1="362" x2="1231" y2="362" stroke="#000" stroke-width="1" />
<line x1="1228" y1="359" x2="1228" y2="365" stroke="#000" stroke-width="1" />
<line x1="1242" y1="362" x2="1248" y2="362" stroke="#000" stroke-width="1" />
<line x1="1245" y1="359" x2="1245" y2="365" stroke="#000" stroke-width="1" />
<line x1="1237" y1="362.7" x2="1294.7" y2="362.7" stroke="#000" stroke-width="1.2" />
<line x1="1291" y1="362.7" x2="1291" y2="599" stroke="#000" stroke-width="1.2" />
<path d="M1294.5,372.7 L1291,362.7 L1287.5,372.7" fill="none" stroke="#000" stroke-width="1"/>
<path d="M1291,362.7 L1292.6,367.7 L1289.4,367.7 Z" fill="#000" stroke="none"/>
<path d="M1287.5,589.0 L1291,599 L1294.5,589.0" fill="none" stroke="#000" stroke-width="1"/>
<path d="M1291,599 L1289.4,594.0 L1292.6,594.0 Z" fill="#000" stroke="none"/>
<line x1="1239" y1="599" x2="1315.9" y2="599" stroke="#000" stroke-width="1.2" />
<text x="1283.3" y="505.06" font-family="Liberation Sans" font-size="21.43" fill="#000" font-weight="normal" text-anchor="start" textLength="42.0" lengthAdjust="spacingAndGlyphs" transform="rotate(-90,1283.3,505.06)" >3430</text>
<line x1="1305.9" y1="579" x2="1305.9" y2="690" stroke="#000" stroke-width="1.2" />
<path d="M1302.4,589.0 L1305.9,599 L1309.4,589.0" fill="none" stroke="#000" stroke-width="1"/>
<path d="M1305.9,599 L1304.3,594.0 L1307.5,594.0 Z" fill="#000" stroke="none"/>
<path d="M1309.4,622.6 L1305.9,612.6 L1302.4,622.6" fill="none" stroke="#000" stroke-width="1"/>
<path d="M1305.9,612.6 L1307.5,617.6 L1304.3,617.6 Z" fill="#000" stroke="none"/>
<line x1="1239" y1="612.6" x2="1317" y2="612.6" stroke="#000" stroke-width="1.2" />
<text x="1299.2" y="672.02" font-family="Liberation Sans" font-size="21.71" fill="#000" font-weight="normal" text-anchor="start" textLength="37.84" lengthAdjust="spacingAndGlyphs" transform="rotate(-90,1299.2,672.02)" >210*</text>
<text x="1131.52" y="630.7" font-family="Liberation Sans" font-size="20.29" fill="#111" font-weight="normal" text-anchor="start" textLength="40.43" lengthAdjust="spacingAndGlyphs" stroke="#fff" stroke-width="0.25">280*</text>
<line x1="1126.6" y1="637.4" x2="1256.5" y2="637.4" stroke="#000" stroke-width="1.2" />
<path d="M1217.5,640.9 L1226.5,637.4 L1217.5,633.9" fill="none" stroke="#000" stroke-width="1"/>
<path d="M1226.5,637.4 L1221.5,639.0 L1221.5,635.8 Z" fill="#000" stroke="none"/>
<path d="M1253.5,633.9 L1244.5,637.4 L1253.5,640.9" fill="none" stroke="#000" stroke-width="1"/>
<path d="M1244.5,637.4 L1249.5,635.8 L1249.5,639.0 Z" fill="#000" stroke="none"/>
<line x1="1226.5" y1="610" x2="1226.5" y2="645" stroke="#000" stroke-width="1.2" />
<line x1="1244.5" y1="600" x2="1244.5" y2="645" stroke="#000" stroke-width="1.2" />
<text x="1012.74" y="639.4" font-family="Liberation Sans" font-size="20.0" fill="#111" font-weight="normal" text-anchor="start" textLength="42.72" lengthAdjust="spacingAndGlyphs" stroke="#fff" stroke-width="0.25">6230</text>
<line x1="810" y1="647.7" x2="1235" y2="647.7" stroke="#000" stroke-width="1.2" />
<path d="M820.0,644.2 L810,647.7 L820.0,651.2" fill="none" stroke="#000" stroke-width="1"/>
<path d="M810,647.7 L815.0,646.1 L815.0,649.3 Z" fill="#000" stroke="none"/>
<path d="M1225.0,651.2 L1235,647.7 L1225.0,644.2" fill="none" stroke="#000" stroke-width="1"/>
<path d="M1235,647.7 L1230.0,649.3 L1230.0,646.1 Z" fill="#000" stroke="none"/>
<line x1="1235.5" y1="612" x2="1235.5" y2="655" stroke="#000" stroke-width="1.2" />
<text x="720.53" y="552.4" font-family="Liberation Sans" font-size="19.42" fill="#111" font-weight="normal" text-anchor="start" textLength="31.28" lengthAdjust="spacingAndGlyphs" stroke="#fff" stroke-width="0.25">420</text>
<text x="850.84" y="553" font-family="Liberation Sans" font-size="19.0" fill="#111" font-weight="normal" text-anchor="start" textLength="31.89" lengthAdjust="spacingAndGlyphs" stroke="#fff" stroke-width="0.25">660</text>
<line x1="716.3" y1="556.7" x2="891.6" y2="556.7" stroke="#000" stroke-width="1.2" />
<path d="M767.7,553.2 L758.7,556.7 L767.7,560.2" fill="none" stroke="#000" stroke-width="1"/>
<path d="M758.7,556.7 L763.7,555.1 L763.7,558.3 Z" fill="#000" stroke="none"/>
<path d="M777.4,560.2 L786.4,556.7 L777.4,553.2" fill="none" stroke="#000" stroke-width="1"/>
<path d="M786.4,556.7 L781.4,558.3 L781.4,555.1 Z" fill="#000" stroke="none"/>
<path d="M842.7,553.2 L833.7,556.7 L842.7,560.2" fill="none" stroke="#000" stroke-width="1"/>
<path d="M833.7,556.7 L838.7,555.1 L838.7,558.3 Z" fill="#000" stroke="none"/>
<line x1="758.7" y1="552" x2="758.7" y2="605" stroke="#000" stroke-width="1.2" />
<text x="913.19" y="460.8" font-family="Liberation Sans" font-size="29.57" fill="#111" font-weight="normal" text-anchor="start" textLength="16.75" lengthAdjust="spacingAndGlyphs" >2</text>
<path d="M949.1,470.2 L899.4,470.2 L809.3,426" stroke="#000" stroke-width="1.2" fill="none" stroke-linejoin="miter"/>
<text x="1138.93" y="390.7" font-family="Liberation Sans" font-size="29.71" fill="#111" font-weight="normal" text-anchor="start" textLength="16.21" lengthAdjust="spacingAndGlyphs" >3</text>
<path d="M1166.5,397 L1126.7,397 L1101.9,354.7" stroke="#000" stroke-width="1.2" fill="none" stroke-linejoin="miter"/>
<text x="1185.19" y="390.7" font-family="Liberation Sans" font-size="30.14" fill="#111" font-weight="normal" text-anchor="start" textLength="10.48" lengthAdjust="spacingAndGlyphs" >1</text>
<path d="M1209.2,397 L1177.4,397 L1232,450" stroke="#000" stroke-width="1.2" fill="none" stroke-linejoin="miter"/>
<text x="1076.35" y="463.8" font-family="Liberation Sans" font-size="30.0" fill="#111" font-weight="normal" text-anchor="start" textLength="16.69" lengthAdjust="spacingAndGlyphs" >4</text>
<path d="M1110.5,469.1 L1066,469.1 L1044.4,482" stroke="#000" stroke-width="1.2" fill="none" stroke-linejoin="miter"/>
<text x="909.15" y="291.3" font-family="Liberation Sans" font-size="19.57" fill="#111" font-weight="normal" text-anchor="start" textLength="252.94" lengthAdjust="spacingAndGlyphs" >Место установки стойки №1</text>
<path d="M1206,302.5 L891,302.5 L821,341.2" stroke="#000" stroke-width="1.3" fill="none" stroke-linejoin="miter"/>
<text x="865.21" y="684.7" font-family="Liberation Serif" font-size="18.9" fill="#111" font-weight="normal" text-anchor="start" textLength="218.41" lengthAdjust="spacingAndGlyphs" >1. * Размеры для справок.</text>
<text x="865.0" y="707.8" font-family="Liberation Serif" font-size="18.9" fill="#111" font-weight="normal" text-anchor="start" textLength="360.25" lengthAdjust="spacingAndGlyphs" >2. Радиусы гибки труб поз. 2…4 – 250 мм.</text>
</svg>
</body></html>
